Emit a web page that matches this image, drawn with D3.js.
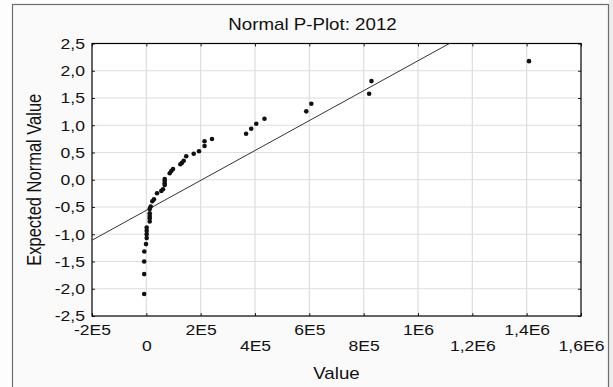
<!DOCTYPE html>
<html><head><meta charset="utf-8">
<script src="https://cdn.jsdelivr.net/npm/d3@7/dist/d3.min.js"></script>
<style>
body{margin:0;background:#fdfdfd}
svg{display:block}
text{font-family:Arial,"Liberation Sans",sans-serif;fill:#111}
</style>
</head><body>
<svg id="chart" width="613" height="387"></svg>
<script>
// ---- data ----
const values = [-8000,-8000,-8000,-7500,-1200,1300,1300,1300,1300,12400,12400,12400,12400,12400,16100,22000,28200,39300,55200,61400,67600,67600,67600,67600,86000,92000,98200,125100,131300,137600,146800,174400,193900,214200,214200,241700,367200,386000,404600,434900,588700,607300,820100,828800,1408600];
const expected = [-2.097,-1.731,-1.500,-1.317,-1.181,-1.071,-0.998,-0.937,-0.877,-0.767,-0.705,-0.663,-0.614,-0.535,-0.493,-0.394,-0.357,-0.247,-0.205,-0.174,-0.095,-0.064,-0.022,0.015,0.119,0.161,0.198,0.284,0.313,0.350,0.430,0.478,0.524,0.619,0.707,0.747,0.844,0.936,1.028,1.119,1.255,1.394,1.577,1.810,2.176];
const xTicks = [-2e5,0,2e5,4e5,6e5,8e5,1e6,1.2e6,1.4e6,1.6e6];
const xTickLabels = ["-2E5","0","2E5","4E5","6E5","8E5","1E6","1,2E6","1,4E6","1,6E6"];
const yTicks = [-2.5,-2,-1.5,-1,-0.5,0,0.5,1,1.5,2,2.5];
const yTickLabels = ["-2,5","-2,0","-1,5","-1,0","-0,5","0,0","0,5","1,0","1,5","2,0","2,5"];
const refMean = 204400, refSd = 364400;
const titleText = "Normal P-Plot: 2012";
const xLabel = "Value";
const yLabel = "Expected Normal Value";

// ---- layout ----
const svg = d3.select("#chart");
const L = 92, R = 581, T = 43.5, B = 316;
const SX = 1.17; // horizontal glyph stretch seen in the reference
const x = d3.scaleLinear().domain([-2e5, 1.6e6]).range([L, R]);
const y = d3.scaleLinear().domain([-2.5, 2.5]).range([B, T]);

// backgrounds / frame
svg.append("rect").attr("x",609).attr("y",0).attr("width",4).attr("height",387).attr("fill","#ececec");
svg.append("rect").attr("x",12.5).attr("y",4.5).attr("width",596).attr("height",400)
  .attr("fill","#fafafa").attr("stroke","#6e6e6e").attr("stroke-width",1.2);

svg.append("rect").attr("x",L).attr("y",T).attr("width",R-L).attr("height",B-T).attr("fill","#fff");

// grid
const g = svg.append("g");
g.selectAll(".gx").data(xTicks.slice(1,-1)).join("line")
  .attr("x1",d=>x(d)).attr("x2",d=>x(d)).attr("y1",T).attr("y2",B)
  .attr("stroke","#dedede").attr("stroke-width",1.2);
g.selectAll(".gy").data(yTicks.slice(1,-1)).join("line")
  .attr("y1",d=>y(d)).attr("y2",d=>y(d)).attr("x1",L).attr("x2",R)
  .attr("stroke","#dedede").attr("stroke-width",1.2);

// axes with inner ticks
const fmtX = d => xTickLabels[xTicks.indexOf(d)];
const fmtY = d => yTickLabels[yTicks.indexOf(d)];
const axB = svg.append("g").attr("transform",`translate(0,${B})`)
  .call(d3.axisBottom(x).tickValues(xTicks).tickFormat(fmtX).tickSizeInner(-3).tickSizeOuter(0).tickPadding(8));
const axT = svg.append("g").attr("transform",`translate(0,${T})`)
  .call(d3.axisTop(x).tickValues(xTicks).tickFormat("").tickSizeInner(-3).tickSizeOuter(0));
const axL = svg.append("g").attr("transform",`translate(${L},0)`)
  .call(d3.axisLeft(y).tickValues(yTicks).tickFormat(fmtY).tickSizeInner(-3).tickSizeOuter(0).tickPadding(6));
const axR = svg.append("g").attr("transform",`translate(${R},0)`)
  .call(d3.axisRight(y).tickValues(yTicks).tickFormat("").tickSizeInner(-3).tickSizeOuter(0));
[axB,axT,axL,axR].forEach(a=>{
  a.select(".domain").remove();
  a.selectAll(".tick line").attr("stroke","#222");
  a.selectAll("text").attr("font-size",15).attr("fill","#111")
    .attr("font-family","Arial, 'Liberation Sans', sans-serif")
    .attr("transform",`scale(${SX},1)`);
});
axB.selectAll("text").attr("dy", (d,i)=> i%2===0 ? "0.71em" : "1.78em");

// plot border
svg.append("rect").attr("x",L).attr("y",T).attr("width",R-L).attr("height",B-T)
  .attr("fill","none").attr("stroke","#000").attr("stroke-width",1.2);

// reference line
svg.append("clipPath").attr("id","clip").append("rect")
  .attr("x",L).attr("y",T).attr("width",R-L).attr("height",B-T);
const xd = x.domain();
svg.append("line").attr("clip-path","url(#clip)")
  .attr("x1",x(xd[0])).attr("y1",y((xd[0]-refMean)/refSd))
  .attr("x2",x(xd[1])).attr("y2",y((xd[1]-refMean)/refSd))
  .attr("stroke","#333").attr("stroke-width",1);

// points
svg.append("g").selectAll("circle").data(values).join("circle")
  .attr("cx",d=>x(d)).attr("cy",(d,i)=>y(expected[i])).attr("r",2.3).attr("fill","#111");

// titles
svg.append("text").attr("transform",`translate(312.5,24) scale(${SX},1)`).attr("text-anchor","middle")
  .attr("dominant-baseline","central").attr("font-size",16).text(titleText);
svg.append("text").attr("transform",`translate(${(L+R)/2},373) scale(${SX},1)`).attr("text-anchor","middle")
  .attr("dominant-baseline","central").attr("font-size",16).text(xLabel);
svg.append("text").attr("transform",`translate(35,${(T+B)/2}) scale(${SX},1) rotate(-90)`).attr("text-anchor","middle")
  .attr("dominant-baseline","central").attr("font-size",16.5).text(yLabel);
</script>
</body></html>
